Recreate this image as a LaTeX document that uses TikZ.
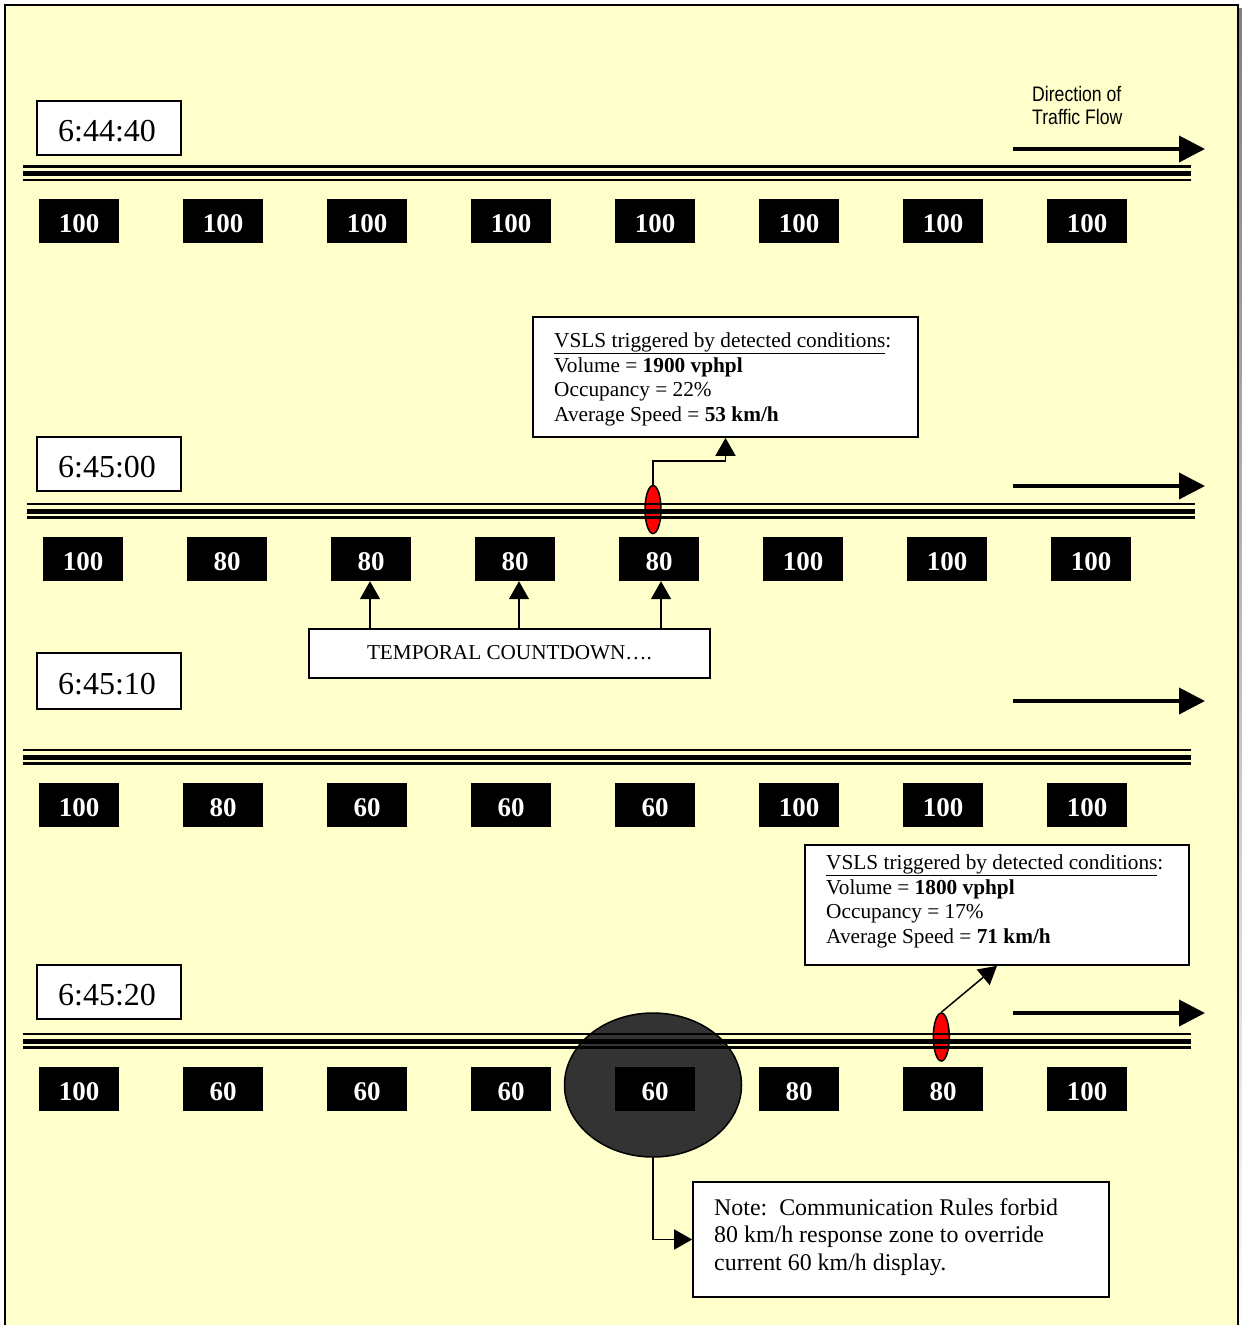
\documentclass[tikz,border=0pt]{standalone}
\usepackage{graphicx}
\usepackage{fontspec}
\setmainfont{Liberation Serif}
\newfontfamily\dirfont{Liberation Sans}
\usetikzlibrary{arrows.meta,shapes.geometric}

\definecolor{panel}{HTML}{FFFFCC}
\definecolor{shade}{HTML}{808080}
\definecolor{zone}{HTML}{333333}
\definecolor{sensor}{HTML}{FF0000}

\tikzset{
  timebox/.style={draw=black, line width=2pt, fill=white, minimum width=144pt,
    minimum height=54pt, inner sep=0pt},
  timetext/.style={font=\fontsize{32}{36}\selectfont, inner sep=0pt},
  sign/.style={fill=black, minimum width=80pt, minimum height=44pt, inner sep=0pt,
    text height=22.3pt, text depth=0pt,
    text=white, font=\bfseries\fontsize{27}{30}\selectfont},
  infobox/.style={draw=black, line width=1.6pt, fill=white, inner sep=0pt},
  infotext/.style={anchor=base west, inner sep=0pt, font=\fontsize{21.3}{24}\selectfont},
  notetext/.style={anchor=base west, inner sep=0pt, font=\fontsize{23.9}{27}\selectfont},
  dirtext/.style={anchor=base west, inner sep=0pt, font=\dirfont\fontsize{21}{23}\selectfont},
  thinlane/.style={line width=2.2pt},
  thicklane/.style={line width=5pt},
  flow/.style={line width=3.8pt, -{Triangle[length=26pt,width=26pt]}},
  conn/.style={line width=1.5pt, -{Triangle[length=18pt,width=20pt]}},
  detector/.style={ellipse, draw=black, line width=1.5pt, fill=sensor,
    minimum width=16pt, minimum height=48pt, inner sep=0pt},
  zonemark/.style={ellipse, draw=black, line width=1.5pt, fill=zone,
    minimum width=177pt, minimum height=144pt, inner sep=0pt},
}

% three-stripe roadway: centre y, start x, end x
\newcommand{\roadway}[3]{%
  \draw[thinlane]  (#2,#1-6.8) -- (#3,#1-6.8);
  \draw[thicklane] (#2,#1)     -- (#3,#1);
  \draw[thinlane]  (#2,#1+6.5) -- (#3,#1+6.5);
}

\begin{document}
\begin{tikzpicture}[x=1pt,y=-1pt]
\useasboundingbox (0,0) rectangle (1242,1325);

% panel with drop shadow
\fill[white] (0,0) rectangle (1242,1325);
\fill[shade] (8,8) rectangle (1242,1345);
\draw[line width=2.5pt, fill=panel] (5,5) rectangle (1238,1340);

% ---------- 6:44:40 ----------
\node[timebox] (t1) at (109,127.5) {};
\node[timetext] (t1txt) at (107,131) {6:44:40};
\node[dirtext] (dir1) at (1032,101) {\scalebox{0.84}[1]{Direction of}};
\node[dirtext] (dir2) at (1032,124.3) {\scalebox{0.84}[1]{Traffic Flow}};
\coordinate (f1a) at (1013,149);
\coordinate (f1b) at (1205,149);
\draw[flow] (f1a) -- (f1b);
\roadway{173.3}{23}{1191}
\foreach \v [count=\i] in {100,100,100,100,100,100,100,100}
  \node[sign] (s1-\i) at ({79+144*(\i-1)},221) {\v};

% ---------- 6:45:00 ----------
\node[timebox] (t2) at (109,464) {};
\node[timetext] (t2txt) at (107,467.5) {6:45:00};
\coordinate (f2a) at (1013,486);
\coordinate (f2b) at (1205,486);
\draw[flow] (f2a) -- (f2b);
\node[detector] (e1) at (653,509.5) {};
\roadway{511}{27}{1195}
\foreach \v [count=\i] in {100,80,80,80,80,100,100,100}
  \node[sign] (s2-\i) at ({83+144*(\i-1)},559) {\v};

\node[infobox, minimum width=385pt, minimum height=120pt] (c1) at (725.5,377) {};
\node[infotext] (c1l1) at (554,347) {\underline{VSLS triggered by detected conditions}:};
\node[infotext] (c1l2) at (554,372) {Volume = \textbf{1900 vphpl}};
\node[infotext] (c1l3) at (554,396.5) {Occupancy = 22\%};
\node[infotext] (c1l4) at (554,421) {Average Speed = \textbf{53 km/h}};
\coordinate (k1) at (725.5,461);
\draw[conn] (e1.north) |- (k1) -- (c1.south);

\node[infobox, minimum width=401pt, minimum height=49pt] (tc) at (509.5,653.5) {};
\node[inner sep=0pt, anchor=base, font=\fontsize{21.2}{24}\selectfont] (tctxt) at (509.5,659) {TEMPORAL COUNTDOWN….};
\draw[conn] ([xshift=-1pt]tc.north -| s2-3) -- ([xshift=-1pt]s2-3.south);
\draw[conn] ([xshift=4pt]tc.north -| s2-4) -- ([xshift=4pt]s2-4.south);
\draw[conn] ([xshift=2pt]tc.north -| s2-5) -- ([xshift=2pt]s2-5.south);

% ---------- 6:45:10 ----------
\node[timebox, minimum height=56pt] (t3) at (109,681) {};
\node[timetext] (t3txt) at (107,684.5) {6:45:10};
\coordinate (f3a) at (1013,701);
\coordinate (f3b) at (1205,701);
\draw[flow] (f3a) -- (f3b);
\roadway{757}{23}{1191}
\foreach \v [count=\i] in {100,80,60,60,60,100,100,100}
  \node[sign] (s3-\i) at ({79+144*(\i-1)},805) {\v};

% ---------- 6:45:20 ----------
\node[timebox] (t4) at (109,992) {};
\node[timetext] (t4txt) at (107,995.5) {6:45:20};
\coordinate (f4a) at (1013,1013);
\coordinate (f4b) at (1205,1013);
\draw[flow] (f4a) -- (f4b);
\node[zonemark] (d) at (653,1085) {};
\node[detector] (e2) at (941.3,1037) {};
\roadway{1041}{23}{1191}
\foreach \v [count=\i] in {100,60,60,60,60,80,80,100}
  \node[sign] (s4-\i) at ({79+144*(\i-1)},1089) {\v};

\node[infobox, minimum width=384pt, minimum height=120pt] (c2) at (997,905) {};
\node[infotext] (c2l1) at (826,869) {\underline{VSLS triggered by detected conditions}:};
\node[infotext] (c2l2) at (826,894) {Volume = \textbf{1800 vphpl}};
\node[infotext] (c2l3) at (826,918.5) {Occupancy = 17\%};
\node[infotext] (c2l4) at (826,943) {Average Speed = \textbf{71 km/h}};
\draw[conn] (e2.north) -- (c2.south);

\node[infobox, minimum width=416pt, minimum height=115pt] (note) at (901,1239.5) {};
\node[notetext] (n1) at (714,1215) {Note:\ \ Communication Rules forbid};
\node[notetext] (n2) at (714,1242.5) {80 km/h response zone to override};
\node[notetext] (n3) at (714,1270) {current 60 km/h display.};
\draw[conn] (d.south) |- (note.west);
\end{tikzpicture}
\end{document}
